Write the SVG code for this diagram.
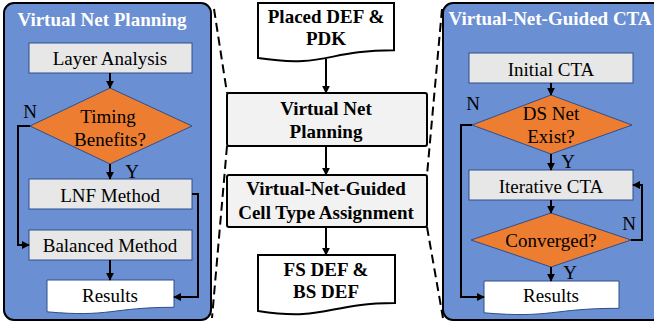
<svg xmlns="http://www.w3.org/2000/svg" width="654" height="331" viewBox="0 0 654 331" font-family="'Liberation Serif', 'Times New Roman', serif">
  <style>
    .panel { fill: #6A8FD2; stroke: #000; stroke-width: 2; }
    .title { font-weight: bold; font-size: 19px; fill: #fff; text-anchor: middle; }
    .step { fill: #E7E7E7; stroke: #2F4F8A; stroke-width: 1; }
    .doc { fill: #fff; stroke: #2F4F8A; stroke-width: 1; }
    .dec { fill: #ED7D31; stroke: #2F4F8A; stroke-width: 1; }
    .main { fill: #F2F2F2; stroke: #000; stroke-width: 2; }
    .maindoc { fill: #fff; stroke: #000; stroke-width: 2; }
    .t { font-size: 19px; fill: #000; text-anchor: middle; }
    .tb { font-size: 19px; font-weight: bold; fill: #000; text-anchor: middle; }
    .wire { fill: none; stroke: #000; stroke-width: 2; }
    .dash { fill: none; stroke: #000; stroke-width: 2; stroke-dasharray: 9 5; }
  </style>
  <defs>
    <marker id="arrow" viewBox="0 0 10 10" refX="9" refY="5" markerWidth="4" markerHeight="4" orient="auto">
      <path d="M0,0 L10,5 L0,10 Z" fill="#000"/>
    </marker>
  </defs>

  <!-- left panel: Virtual Net Planning -->
  <g id="panel-vnp">
    <rect class="panel" x="4" y="3" width="207" height="317" rx="10"/>
    <text class="title" x="102" y="26">Virtual Net Planning</text>
  </g>
  <g id="layer-analysis">
    <rect class="step" x="29" y="43" width="163" height="30"/>
    <text class="t" x="110" y="65">Layer Analysis</text>
  </g>
  <g id="timing-benefits">
    <path class="dec" d="M110,88 L192,126 L110,164 L30,126 Z"/>
    <text class="t" x="108" y="123">Timing</text>
    <text class="t" x="110" y="146">Benefits?</text>
  </g>
  <g id="lnf-method">
    <rect class="step" x="29" y="179" width="163" height="30"/>
    <text class="t" x="110" y="202">LNF Method</text>
  </g>
  <g id="balanced-method">
    <rect class="step" x="29" y="230" width="163" height="30"/>
    <text class="t" x="110" y="252">Balanced Method</text>
  </g>
  <g id="results-left">
    <path class="doc" d="M47,280 H174 V307.3 C110.5,307.3 110.5,317.6 47,311.8 Z"/>
    <text class="t" x="110" y="302">Results</text>
  </g>

  <!-- middle flow -->
  <g id="placed-def">
    <path class="maindoc" d="M258,3 H394 V50.3 C326,50.3 326,68.3 258,58.1 Z"/>
    <text class="tb" x="326" y="23">Placed DEF &amp;</text>
    <text class="tb" x="326" y="45">PDK</text>
  </g>
  <g id="virtual-net-planning">
    <rect class="main" x="227" y="93" width="200" height="53" rx="2"/>
    <text class="tb" x="326" y="115">Virtual Net</text>
    <text class="tb" x="326" y="138">Planning</text>
  </g>
  <g id="cell-type-assignment">
    <rect class="main" x="227" y="175" width="200" height="52" rx="2"/>
    <text class="tb" x="326" y="195">Virtual-Net-Guided</text>
    <text class="tb" x="326" y="219">Cell Type Assignment</text>
  </g>
  <g id="output-def">
    <path class="maindoc" d="M258,255 H395 V303.1 C326.5,303.1 326.5,321.4 258,311 Z"/>
    <text class="tb" x="326" y="276">FS DEF &amp;</text>
    <text class="tb" x="326" y="298">BS DEF</text>
  </g>

  <!-- right panel: Virtual-Net-Guided CTA -->
  <g id="panel-cta">
    <rect class="panel" x="443" y="3" width="230" height="317" rx="10"/>
    <text class="title" x="550" y="25">Virtual-Net-Guided CTA</text>
  </g>
  <g id="initial-cta">
    <rect class="step" x="469" y="53" width="164" height="30"/>
    <text class="t" x="551" y="76">Initial CTA</text>
  </g>
  <g id="ds-net-exist">
    <path class="dec" d="M551,95 L632,125 L551,154 L472,125 Z"/>
    <text class="t" x="551" y="120">DS Net</text>
    <text class="t" x="551" y="143">Exist?</text>
  </g>
  <g id="iterative-cta">
    <rect class="step" x="469" y="170" width="164" height="30"/>
    <text class="t" x="551" y="193">Iterative CTA</text>
  </g>
  <g id="converged">
    <path class="dec" d="M551,213 L631,240 L551,267 L471,240 Z"/>
    <text class="t" x="551" y="247">Converged?</text>
  </g>
  <g id="results-right">
    <path class="doc" d="M484,281 H619 V308.3 C551.5,308.3 551.5,318.6 484,312.8 Z"/>
    <text class="t" x="551" y="302">Results</text>
  </g>

  <!-- connectors -->
  <g id="connectors">
    <line class="wire" x1="110" y1="73" x2="110" y2="88" marker-end="url(#arrow)"/>
    <polyline class="wire" points="30,126 18,126 18,245 29,245" marker-end="url(#arrow)"/>
    <line class="wire" x1="110" y1="164" x2="110" y2="179" marker-end="url(#arrow)"/>
    <polyline class="wire" points="192,194 198,194 198,297 174,297" marker-end="url(#arrow)"/>
    <line class="wire" x1="110" y1="260" x2="110" y2="280" marker-end="url(#arrow)"/>
    <text class="t" x="30" y="118">N</text>
    <text class="t" x="132" y="178">Y</text>

    <line class="wire" x1="326" y1="59" x2="326" y2="93" marker-end="url(#arrow)"/>
    <line class="wire" x1="326" y1="146" x2="326" y2="175" marker-end="url(#arrow)"/>
    <line class="wire" x1="326" y1="227" x2="326" y2="255" marker-end="url(#arrow)"/>

    <line class="wire" x1="551" y1="83" x2="551" y2="95" marker-end="url(#arrow)"/>
    <polyline class="wire" points="472,125 461,125 461,297 484,297" marker-end="url(#arrow)"/>
    <line class="wire" x1="551" y1="154" x2="551" y2="170" marker-end="url(#arrow)"/>
    <line class="wire" x1="551" y1="200" x2="551" y2="213" marker-end="url(#arrow)"/>
    <polyline class="wire" points="631,240 642,240 642,185 633,185" marker-end="url(#arrow)"/>
    <line class="wire" x1="551" y1="267" x2="551" y2="281" marker-end="url(#arrow)"/>
    <text class="t" x="473" y="110">N</text>
    <text class="t" x="568" y="168">Y</text>
    <text class="t" x="629" y="230">N</text>
    <text class="t" x="570" y="279">Y</text>

    <!-- zoom-out guides -->
    <line class="dash" x1="214" y1="9" x2="227" y2="93"/>
    <line class="dash" x1="227" y1="146" x2="212" y2="318"/>
    <line class="dash" x1="442" y1="9" x2="427" y2="175"/>
    <line class="dash" x1="427" y1="227" x2="443" y2="318"/>
  </g>
</svg>
